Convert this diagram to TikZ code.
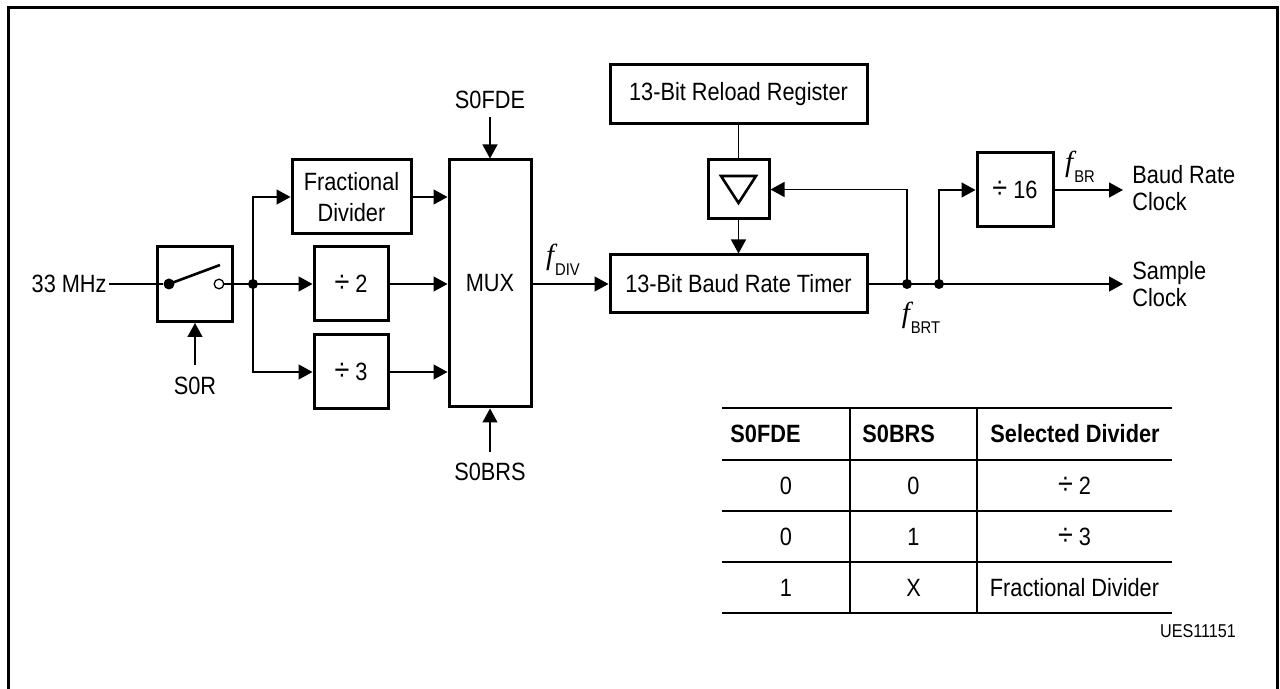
\documentclass[tikz,border=0pt]{standalone}
\usepackage{fontspec}
\setmainfont{Liberation Sans}[FakeStretch=0.87]
\newfontfamily\fserif{Liberation Serif}
\usetikzlibrary{arrows.meta}

\newcommand{\fsz}{\fontsize{12.5}{13.5}\selectfont}
\newcommand{\dv}{{\fontsize{15.5}{15.5}\selectfont ÷}}
\newcommand{\freq}[1]{{\fontsize{14.5}{14.5}\selectfont\fserif\itshape f}\kern0.5pt\raisebox{-5.5pt}{\fontsize{8.5}{9}\selectfont #1}}

\tikzset{
  blk/.style={draw, line width=1.5pt, inner sep=0pt, align=center},
  wire/.style={line width=0.65pt},
  sig/.style={wire, -{Triangle[length=7pt,width=7.5pt]}},
  dot/.style={circle, fill, inner sep=0pt, minimum size=5pt},
  txt/.style={inner sep=1pt, align=left},
}

\begin{document}
\begin{tikzpicture}[x=0.5pt,y=-0.5pt,font=\fsz]
\useasboundingbox (0,0) rectangle (1280,689);
\draw[line width=1.5pt] (8,689) -- (8,8) -- (1277,8) -- (1277,689);

% blocks
\node[blk, minimum width=37.5pt, minimum height=37.5pt] (sw) at (195,284) {};
\node[blk, minimum width=59.5pt, minimum height=37pt, font=\fontsize{12.5}{15.5}\selectfont] (frac) at (351.5,197) {Fractional\\Divider};
\node[blk, minimum width=37pt, minimum height=37pt] (div2) at (351,284) {\dv\ 2};
\node[blk, minimum width=37pt, minimum height=37pt] (div3) at (351,372) {\dv\ 3};
\node[blk, minimum width=41pt, minimum height=123.5pt] (mux) at (490,283.5) {MUX};
\node[blk, minimum width=128.5pt, minimum height=29pt] (timer) at (738.5,284) {13-Bit Baud Rate Timer};
\node[blk, minimum width=128.5pt, minimum height=29.5pt] (reload) at (738.5,94.5) {13-Bit Reload Register};
\node[blk, minimum width=30.5pt, minimum height=29.5pt] (tri) at (738.5,189.5) {};
\node[blk, minimum width=38pt, minimum height=37pt] (div16) at (1015,190) {\dv\ 16};
\draw[line width=1.3pt] (721,176) -- (756,176) -- (738.5,203) -- cycle;

% labels
\node[txt, anchor=east] (in33) at (109,284) {33 MHz};
\node[txt] (s0r) at (195,386) {S0R};
\node[txt] (s0fde) at (490,100) {S0FDE};
\node[txt] (s0brs) at (490,472) {S0BRS};
\node (fdiv) at (563,260) {\freq{DIV}};
\node (fbrt) at (921,318) {\freq{BRT}};
\node (fbr) at (1080,167) {\freq{BR}};
\node[txt, anchor=west] (bclkl) at (1130,188) {Baud Rate\\Clock};
\node[txt, anchor=west] (sclkl) at (1130,284) {Sample\\Clock};

% switch
\node[dot, minimum size=5.5pt] (swi) at (169,284) {};
\node[circle, draw, wire, fill=white, inner sep=0pt, minimum size=4.8pt] (swo) at (219,284) {};
\coordinate (swtip) at (220,265);
\draw[line width=1.3pt] (swi.center) -- (swtip);
\draw[wire] (in33) -- (swi);
\draw[sig, shorten <=5pt] (s0r) -- (sw);

% dividers and mux
\coordinate (j1) at (253,284);
\draw[wire] (swo) -- (j1);
\draw[sig] (j1) |- (frac.west);
\draw[sig] (j1) -- (div2.west);
\draw[sig] (j1) |- (div3.west);
\node[dot] at (j1) {};
\draw[sig] (frac.east) -- (frac.east -| mux.west);
\draw[sig] (div2.east) -- (div2.east -| mux.west);
\draw[sig] (div3.east) -- (div3.east -| mux.west);
\draw[sig, shorten <=3pt] (s0fde) -- (mux);
\draw[sig, shorten <=4.5pt] (s0brs) -- (mux);

% timer
\draw[sig] (mux.east |- timer.west) -- (timer.west);
\draw[wire] (reload) -- (tri);
\draw[sig] (tri) -- (timer);
\coordinate (j2) at (907,284);
\coordinate (j3) at (939,284);
\coordinate (sclk) at (1123,284);
\coordinate (bclk) at (1123,190);
\draw[sig] (timer.east) -- (sclk);
\draw[sig] (j2) |- (tri.east);
\draw[sig] (j3) |- (div16.west);
\draw[sig] (div16.east) -- (bclk);
\node[dot] at (j2) {};
\node[dot] at (j3) {};

% table
\foreach \y in {408,460,511,562,613}
  \draw[wire] (722,\y) -- (1172,\y);
\draw[wire] (850,408) -- (850,613);
\draw[wire] (977,408) -- (977,613);
\node[txt, anchor=west, font=\fsz\bfseries] (h1) at (728,434) {S0FDE};
\node[txt, anchor=west, font=\fsz\bfseries] (h2) at (860,434) {S0BRS};
\node[txt, anchor=west, font=\fsz\bfseries] (h3) at (988,434) {Selected Divider};
\foreach \a/\b/\c [count=\i] in {0/0/\dv\ 2, 0/1/\dv\ 3, 1/X/Fractional Divider} {
  \node (r\i a) at (786,435+51*\i) {\a};
  \node (r\i b) at (913.5,435+51*\i) {\b};
  \node (r\i c) at (1074.5,435+51*\i) {\c};
}
\node[font=\fontsize{9.3}{10}\selectfont] (ues) at (1198,631) {UES11151};
\end{tikzpicture}
\end{document}
